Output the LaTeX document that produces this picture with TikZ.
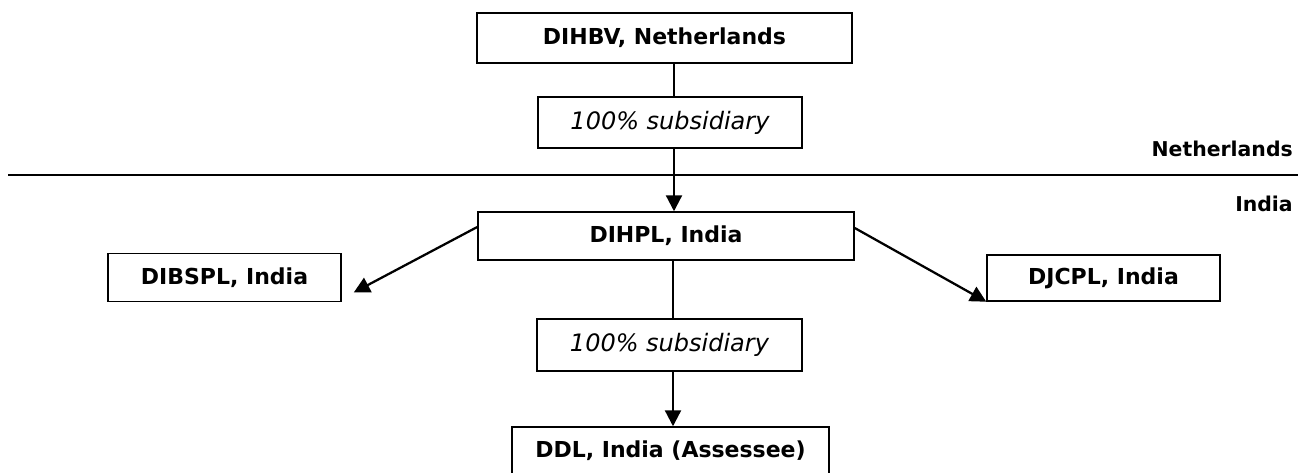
\documentclass[tikz,border=0pt]{standalone}
\usepackage{fontspec}
\setmainfont{DejaVu Sans}
\usetikzlibrary{arrows.meta,calc}
\begin{document}
\begin{tikzpicture}[x=0.75pt,y=-0.75pt,
  box/.style={draw,line width=1.1pt,inner sep=0pt,font=\fontsize{16.5}{18}\selectfont\bfseries},
  pct/.style={draw,line width=1.1pt,inner sep=0pt,font=\fontsize{18}{20}\selectfont\itshape},
  lbl/.style={inner sep=0pt,font=\fontsize{15.3}{17}\selectfont\bfseries,anchor=east},
  arr/.style={line width=1.7pt,-{Triangle[length=12pt,width=12pt]}},
  thin/.style={line width=0.8pt}]
\useasboundingbox (0,0) rectangle (1313,473);
\node[box,minimum width=281.25pt,minimum height=37.5pt] (dihbv) at (664.5,38) {DIHBV, Netherlands};
\node[pct,minimum width=198pt,minimum height=38.25pt] (sub1) at (670,122.5) {100\% subsidiary};
\node[box,minimum width=282pt,minimum height=36pt] (dihpl) at (666,236) {DIHPL, India};
\node[box,minimum width=174.75pt,minimum height=36pt] (dibspl) at (224.5,277.5) {DIBSPL, India};
\node[box,minimum width=174.75pt,minimum height=34.5pt] (djcpl) at (1103.5,278) {DJCPL, India};
\node[pct,minimum width=198.75pt,minimum height=39pt] (sub2) at (669.5,345) {100\% subsidiary};
\node[box,minimum width=237.75pt,minimum height=36pt] (ddl) at (670.5,451) {DDL, India (Assessee)};
\node[lbl] (nl) at (1293,149) {Netherlands};
\node[lbl] (in) at (1293,204) {India};
\coordinate (bl) at (8,175);
\coordinate (br) at (1298,175);
\draw[line width=1.5pt] (bl) -- (br);
\draw[thin] ($(dihbv.south)+(9.5,0)$) -- ($(sub1.north)+(4,0)$);
\draw[arr] ($(sub1.south)+(4,0)$) -- ($(dihpl.north)+(8,0)$);
\draw[thin] ($(dihpl.south)+(7,0)$) -- ($(sub2.north)+(3.5,0)$);
\draw[arr] ($(sub2.south)+(3.5,0)$) -- ($(ddl.north)+(2.5,0)$);
\draw[arr] ($(dihpl.west)+(0,-9)$) -- ($(dibspl.east)+(12,15)$);
\draw[arr] ($(dihpl.east)+(0,-8)$) -- (djcpl.south west);
\end{tikzpicture}
\end{document}
